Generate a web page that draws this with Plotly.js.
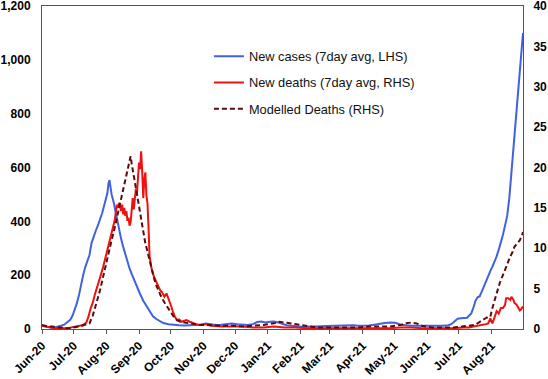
<!DOCTYPE html>
<html>
<head>
<meta charset="utf-8">
<script src="https://cdn.plot.ly/plotly-3.0.1.min.js"></script>
<style>html,body{margin:0;padding:0;background:#fff;}#chart{width:548px;height:379px;}</style>
</head>
<body>
<div id="chart"></div>
<script>
// Day offsets counted from 2020-06-01
const caseDay = [0,3,6,9,12,15,18,21,24,27,29,31,33,35,37,39,41,43,45,47,49,51,53,55,57,59,61,62,63,64,65,66,68,70,71,73,75,77,79,81,83,85,87,89,91,93,96,99,102,105,108,111,115,120,125,130,135,140,145,150,155,160,165,170,175,180,185,190,195,200,204,208,212,216,220,224,228,232,236,240,245,250,255,260,265,270,275,280,285,290,295,300,305,310,315,320,325,330,335,340,345,350,355,360,365,370,375,380,385,388,391,394,397,400,403,405,407,409,411,413,415,417,419,421,423,425,427,429,431,433,435,437,439,441,443,445,447,449,451,453,455,456];
const cases = [12,10,7,5,6,8,12,16,25,35,50,70,95,125,165,200,230,255,275,320,345,365,385,405,430,460,490,505,540,553,525,500,470,430,405,370,335,305,275,250,225,205,185,165,145,130,105,85,65,48,38,30,22,18,15,14,13,14,15,16,20,17,15,16,18,20,18,16,15,18,26,28,24,27,28,24,18,14,12,10,8,8,8,9,10,11,12,12,13,14,14,12,12,13,16,20,22,24,23,16,13,12,12,12,11,12,12,12,14,18,28,38,40,40,42,50,58,80,105,118,122,140,160,180,195,215,232,250,270,295,320,350,385,420,485,580,680,775,875,970,1070,1100];

const deathDay = [0,4,8,12,16,20,24,28,32,36,39,42,44,46,48,50,52,54,56,58,60,62,64,66,68,69,70,71,72,73,74,75,76,77,78,79,80,81,82,83,84,85,86,87,88,89,90,91,92,93,94,95,96,97,98,99,100,101,102,103,104,106,108,110,112,114,116,118,120,122,124,126,128,130,132,135,137,140,143,146,150,155,160,170,180,190,200,210,220,230,240,250,260,270,280,290,300,310,320,330,340,350,360,370,380,390,400,405,409,414,418,421,423,425,427,429,431,433,435,437,439,440,442,444,445,447,448,450,452,453,454,456];
const deaths = [0.4,0.3,0.2,0.1,0.1,0.1,0.1,0.2,0.3,0.4,0.5,0.8,1.5,2.5,3.2,4.2,5.0,5.8,6.8,7.7,8.8,10,11,12,13,13.5,14.5,15.4,15.0,15.6,15.2,14.6,15.4,14.2,15.0,14.0,14.6,13.4,13.8,12.8,13.2,15.2,16.2,14.8,16.6,17.4,16.8,19.5,20.6,19.8,22.0,19.5,16.2,18.5,19.4,16.5,15.6,12.5,9.0,8.2,7.4,6.5,5.9,5.2,4.8,4.5,4.0,4.4,3.8,3.0,2.2,1.5,1.1,1.2,0.9,1.0,1.1,0.9,0.7,0.6,0.5,0.6,0.4,0.3,0.3,0.3,0.2,0.2,0.3,0.2,0.2,0.1,0.1,0.1,0.1,0.1,0.1,0.1,0.1,0.1,0.2,0.2,0.1,0.1,0.1,0.1,0.2,0.2,0.3,0.4,0.5,0.6,0.7,1.3,0.7,1.5,2.2,1.9,2.6,2.6,3.0,3.8,3.8,3.6,4.0,3.6,3.2,3.0,2.4,2.3,2.4,2.8];

const modelDay = [0,3,6,10,14,18,22,26,30,34,38,42,45,48,50,52,55,57,60,62,64,66,68,70,72,74,76,78,80,82,83,84,85,86,88,90,92,94,96,98,100,102,104,106,108,110,113,116,119,122,125,128,131,135,140,145,150,160,170,180,190,200,210,220,225,230,235,240,245,250,260,270,280,290,300,310,320,330,340,345,350,355,360,365,370,380,390,398,405,410,414,417,420,423,425,427,429,431,434,436,439,441,444,446,448,450,453,455,456];
const modelled = [0.5,0.4,0.3,0.3,0.2,0.2,0.1,0.1,0.2,0.3,0.4,0.6,0.7,1.6,2.4,3.4,4.8,6.0,7.5,9.0,9.8,11,12,13.2,14.3,15.3,16.5,17.8,19.2,20.2,21.0,21.4,20.5,19.8,18.2,17.0,15.2,13.6,12.0,10.6,9.6,8.4,7.3,6.4,5.5,4.8,4.0,3.3,2.7,2.0,1.5,1.1,0.9,0.8,0.7,0.6,0.5,0.5,0.4,0.4,0.3,0.4,0.5,0.7,0.9,0.8,0.7,0.6,0.5,0.4,0.2,0.2,0.2,0.2,0.2,0.3,0.3,0.3,0.5,0.7,0.8,0.7,0.4,0.3,0.2,0.2,0.2,0.3,0.4,0.5,0.8,1.1,1.3,1.5,1.5,2.6,3.6,4.4,5.7,6.4,7.3,8.0,9.0,9.5,10.2,10.5,11.0,11.6,12.0];

const seriesNames = ['New cases (7day avg, LHS)','New deaths (7day avg, RHS)','Modelled Deaths (RHS)'];
const leftTicks = [0,200,400,600,800,1000,1200];
const rightTicks = [0,5,10,15,20,25,30,35,40];

function toDate(off){
  const t = new Date(Date.UTC(2020,5,1) + off*86400000);
  return t.toISOString().slice(0,10);
}

const FONT = 'Liberation Sans, Arial, Helvetica, sans-serif';
const tickFont = {family: FONT, size: 12, color: '#000', weight: 'bold'};

const traces = [
  {x: caseDay.map(toDate), y: cases, name: seriesNames[0], type: 'scatter', mode: 'lines',
   line: {color: '#3F62E0', width: 2}, yaxis: 'y', legendgroup: 'a'},
  {x: deathDay.map(toDate), y: deaths, name: seriesNames[1], type: 'scatter', mode: 'lines',
   line: {color: '#F01010', width: 2}, yaxis: 'y2', legendgroup: 'b'},
  {x: modelDay.map(toDate), y: modelled, name: seriesNames[2], type: 'scatter', mode: 'lines',
   line: {color: '#5E0A0A', width: 2, dash: '5px,3px'}, yaxis: 'y2', legendgroup: 'c'}
];

const layout = {
  width: 548, height: 379,
  margin: {l: 42, r: 25, t: 6, b: 50},
  paper_bgcolor: '#fff', plot_bgcolor: '#fff',
  font: {family: FONT, size: 12, color: '#000'},
  showlegend: true,
  legend: {x: 0.347, y: 0.89, xanchor: 'left', yanchor: 'top', bgcolor: 'rgba(0,0,0,0)',
           font: {family: FONT, size: 12.8, color: '#111'}, tracegroupgap: 6.5},
  xaxis: {type: 'date', range: ['2020-06-01', '2021-08-31'], tick0: '2020-06-01', dtick: 'M1',
          tickformat: '%b-%y', tickangle: -45, ticks: 'outside', ticklen: 4, tickcolor: '#555',
          showline: true, linecolor: '#555', linewidth: 1, mirror: true, showgrid: false, zeroline: false,
          tickfont: tickFont, ticklabeloverflow: 'allow'},
  yaxis: {range: [0, 1200], tickmode: 'array', tickvals: leftTicks, tickformat: ',',
          showline: true, linecolor: '#555', linewidth: 1,
          showgrid: false, zeroline: false, ticks: '', tickfont: tickFont, ticklabelstandoff: 8,
          ticklabeloverflow: 'allow'},
  yaxis2: {range: [0, 40], tickmode: 'array', tickvals: rightTicks, overlaying: 'y', side: 'right',
           showline: true, linecolor: '#555', linewidth: 1,
           showgrid: false, zeroline: false, ticks: '', tickfont: tickFont, ticklabelstandoff: 7,
           ticklabeloverflow: 'allow'}
};

Plotly.newPlot('chart', traces, layout, {staticPlot: true, displayModeBar: false});
</script>
</body>
</html>
